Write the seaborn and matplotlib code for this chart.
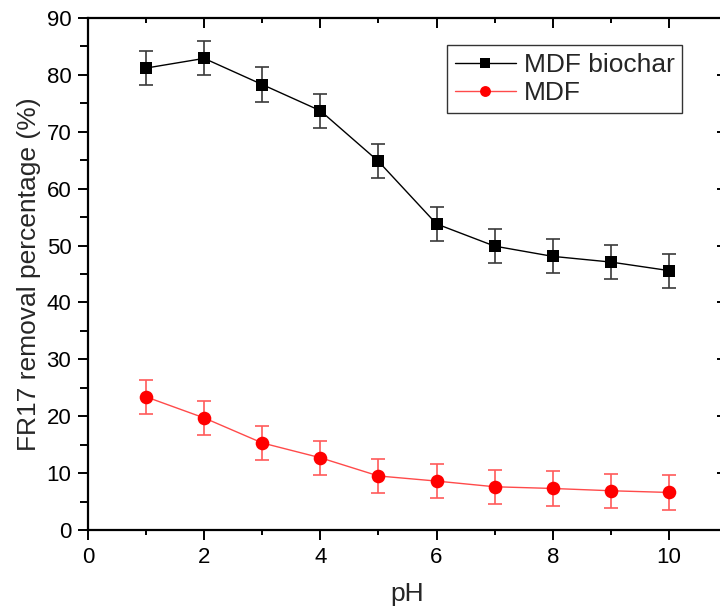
import matplotlib
matplotlib.use("Agg")
import matplotlib.pyplot as plt
from matplotlib.ticker import MultipleLocator
import seaborn as sns
import pandas as pd

# pH values tested
ph = [1, 2, 3, 4, 5, 6, 7, 8, 9, 10]

# FR17 removal (%) and standard deviations
biochar_removal = [81.2, 82.9, 78.3, 73.7, 64.8, 53.8, 49.9, 48.1, 47.1, 45.6]
biochar_err = [3.0, 3.0, 3.0, 3.0, 3.0, 3.0, 3.0, 3.0, 3.0, 3.0]
mdf_removal = [23.4, 19.7, 15.3, 12.7, 9.5, 8.6, 7.6, 7.3, 6.9, 6.6]
mdf_err = [3.0, 3.0, 3.0, 3.0, 3.0, 3.0, 3.0, 3.0, 3.0, 3.0]

series_names = ["MDF biochar", "MDF"]

df = pd.concat([
    pd.DataFrame({"pH": ph, "removal": biochar_removal, "err": biochar_err,
                  "sample": series_names[0]}),
    pd.DataFrame({"pH": ph, "removal": mdf_removal, "err": mdf_err,
                  "sample": series_names[1]}),
])

sns.set_theme(style="ticks")
plt.rcParams["font.family"] = ["Liberation Sans", "DejaVu Sans"]

fig = plt.figure(figsize=(7.2, 6.12), dpi=100)
ax = fig.add_axes([88 / 720, 82 / 612, 639 / 720, 512 / 612])

styles = {
    "MDF biochar": dict(line="#000000", marker="s", mcolor="#000000", ecolor="#3a3a3a", ms=8.8),
    "MDF": dict(line="#ff4a4a", marker="o", mcolor="#ff0000", ecolor="#ff5a5a", ms=9.8),
}

for name in series_names:
    sub = df[df["sample"] == name]
    st = styles[name]
    ax.errorbar(sub["pH"], sub["removal"], yerr=sub["err"], fmt="none",
                ecolor=st["ecolor"], elinewidth=1.2, capsize=5, capthick=1.2, zorder=2)
    sns.lineplot(data=sub, x="pH", y="removal", ax=ax, color=st["line"],
                 linewidth=1.0, marker=st["marker"], markersize=st["ms"],
                 markerfacecolor=st["mcolor"], markeredgecolor=st["mcolor"],
                 markeredgewidth=0, label=name, zorder=3)

ax.set_xlim(0, 11)
ax.set_ylim(0, 90)
ax.xaxis.set_major_locator(MultipleLocator(2))
ax.xaxis.set_minor_locator(MultipleLocator(1))
ax.yaxis.set_major_locator(MultipleLocator(10))
ax.yaxis.set_minor_locator(MultipleLocator(5))

for side in ["left", "bottom", "top", "right"]:
    ax.spines[side].set_visible(True)
    ax.spines[side].set_linewidth(1.6)
    ax.spines[side].set_color("black")

ax.tick_params(axis="both", which="major", direction="out", length=7, width=1.4,
               labelsize=16, pad=5, colors="black")
ax.tick_params(axis="both", which="minor", direction="out", length=3.5, width=1.4,
               colors="black")
ax.tick_params(axis="y", which="minor", length=6)
ax.tick_params(top=True, right=True, which="both")
ax.xaxis.set_tick_params(which="major", labeltop=False)
ax.yaxis.set_tick_params(which="major", labelright=False)

# mirrored ticks on top and right point inward
for t in ax.xaxis.get_major_ticks():
    t.tick2line.set_marker(matplotlib.lines.TICKDOWN)
    t.tick2line.set_markersize(7)
for t in ax.xaxis.get_minor_ticks():
    t.tick2line.set_marker(matplotlib.lines.TICKDOWN)
    t.tick2line.set_markersize(3.5)
for t in ax.yaxis.get_major_ticks():
    t.tick2line.set_marker(matplotlib.lines.TICKLEFT)
    t.tick2line.set_markersize(7)
for t in ax.yaxis.get_minor_ticks():
    t.tick2line.set_marker(matplotlib.lines.TICKLEFT)
    t.tick2line.set_markersize(3.5)

ax.set_xlabel("pH", fontsize=19, labelpad=10)
ax.set_ylabel("FR17 removal percentage (%)", fontsize=19, labelpad=4)

leg = ax.legend(loc="upper left", bbox_to_anchor=((447 - 88) / 639, (530 - 45) / 512),
                borderaxespad=0, fontsize=19, frameon=True, fancybox=False,
                edgecolor="black", handlelength=2.3, handletextpad=0.3,
                labelspacing=0.15, borderpad=0.3, markerscale=0.8)
leg.get_frame().set_linewidth(1.0)

fig.savefig("out.png", dpi=100)
